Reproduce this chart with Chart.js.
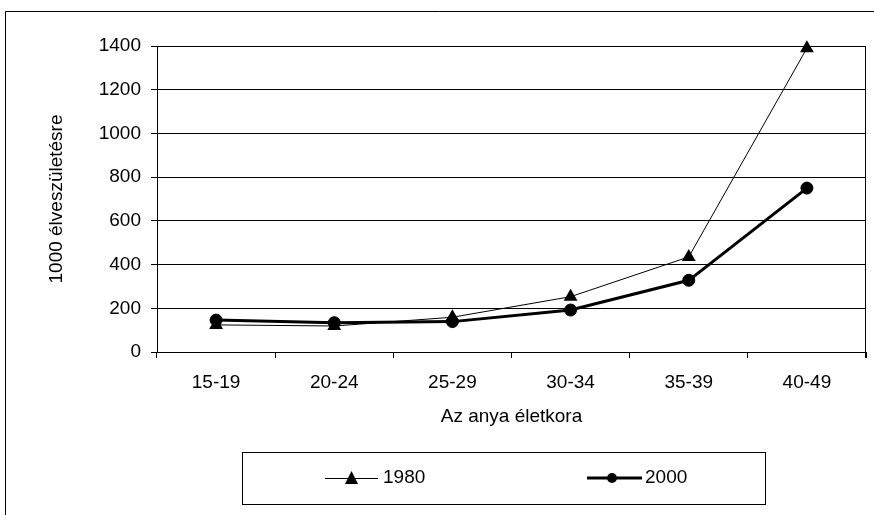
<!DOCTYPE html>
<html>
<head>
<meta charset="utf-8">
<script src="https://cdn.jsdelivr.net/npm/chart.js@4"></script>
<style>
  html, body { margin: 0; padding: 0; background: #fff; }
  #wrap { width: 874px; height: 515px; position: relative; }
</style>
</head>
<body>
<div id="wrap"><canvas id="grafico"></canvas></div>
<script>
// adatok
const korcsoportok = ["15-19", "20-24", "25-29", "30-34", "35-39", "40-49"];
const ertekek1980 = [124, 119, 159, 253, 435, 1390];
const ertekek2000 = [146, 134, 139, 192, 328, 750];
const yTickek = [0, 200, 400, 600, 800, 1000, 1200, 1400];
const sorozatNevek = ["1980", "2000"];

const BETU = "'Liberation Sans', Arial, sans-serif";
const MERET = 19;

// keret + jobb oldali szegély + saját jelmagyarázat
const keretPlugin = {
    id: "keret",
    beforeDraw(chart) {
        const c = chart.ctx;
        c.save();
        c.strokeStyle = "#000";
        c.lineWidth = 1;
        c.beginPath();
        c.moveTo(5.5, 515);
        c.lineTo(5.5, 11.5);
        c.lineTo(874, 11.5);
        c.stroke();
        c.restore();
    },
    afterDraw(chart) {
        const c = chart.ctx;
        const a = chart.chartArea;
        c.save();
        c.strokeStyle = "#000";
        c.lineWidth = 1;
        c.beginPath();
        c.moveTo(Math.round(a.right) - 0.5, a.top);
        c.lineTo(Math.round(a.right) - 0.5, a.bottom + 6);
        c.stroke();

        // jelmagyarázat doboz
        c.strokeRect(242.5, 452.5, 523, 52);
        c.font = MERET + "px " + BETU;
        c.fillStyle = "#000";
        c.textBaseline = "middle";
        const y = 478;

        // 1980
        c.lineWidth = 1;
        c.beginPath();
        c.moveTo(325, y + 0.5);
        c.lineTo(378, y + 0.5);
        c.stroke();
        c.beginPath();
        c.moveTo(351.5, y - 7);
        c.lineTo(358, y + 6);
        c.lineTo(345, y + 6);
        c.closePath();
        c.fill();
        c.fillText(sorozatNevek[0], 383, y);

        // 2000
        c.lineWidth = 3;
        c.beginPath();
        c.moveTo(587, y);
        c.lineTo(642, y);
        c.stroke();
        c.beginPath();
        c.arc(612, y, 5, 0, Math.PI * 2);
        c.fill();
        c.fillText(sorozatNevek[1], 645, y);
        c.restore();
    }
};

const ctx = document.getElementById("grafico");

new Chart(ctx, {
    type: "line",
    data: {
        labels: korcsoportok,
        datasets: [
            {
                label: sorozatNevek[0],
                data: ertekek1980,
                borderColor: "#000",
                backgroundColor: "#000",
                borderWidth: 1,
                pointStyle: "triangle",
                pointRadius: 8,
                pointBorderWidth: 0,
                tension: 0,
                clip: false
            },
            {
                label: sorozatNevek[1],
                data: ertekek2000,
                borderColor: "#000",
                backgroundColor: "#000",
                borderWidth: 3,
                pointStyle: "circle",
                pointRadius: 6,
                pointBorderWidth: 1,
                tension: 0,
                clip: false
            }
        ]
    },
    options: {
        responsive: true,
        maintainAspectRatio: false,
        animation: false,
        layout: { padding: { top: 46, right: 3, bottom: 83, left: 0 } },
        plugins: {
            legend: { display: false },
            tooltip: { enabled: false }
        },
        scales: {
            x: {
                offset: true,
                grid: {
                    offset: true,
                    drawOnChartArea: false,
                    drawTicks: true,
                    tickLength: 6,
                    color: "#000"
                },
                border: { color: "#000", width: 1 },
                ticks: {
                    color: "#000",
                    font: { family: BETU, size: MERET },
                    padding: 13,
                    maxRotation: 0
                },
                title: {
                    display: true,
                    text: "Az anya életkora",
                    color: "#000",
                    font: { family: BETU, size: MERET },
                    padding: { top: 0, bottom: 4 }
                },
                afterFit(scale) { scale.height = 80; }
            },
            y: {
                min: 0,
                max: 1400,
                afterBuildTicks(scale) {
                    scale.ticks = yTickek.map(v => ({ value: v }));
                },
                grid: {
                    color: "#000",
                    tickLength: 6,
                    drawTicks: true
                },
                border: { color: "#000", width: 1 },
                ticks: {
                    color: "#000",
                    font: { family: BETU, size: MERET },
                    padding: 10,
                    callback: v => String(v)
                },
                title: {
                    display: true,
                    text: "1000 élveszületésre",
                    color: "#000",
                    font: { family: BETU, size: MERET },
                    padding: { top: 45, bottom: 0 }
                },
                afterFit(scale) { scale.width = 157; }
            }
        }
    },
    plugins: [keretPlugin]
});
</script>
</body>
</html>
